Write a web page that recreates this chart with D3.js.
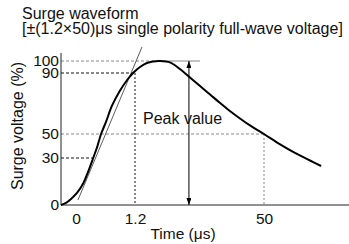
<!DOCTYPE html>
<html lang="en">
  <head>
    <meta charset="UTF-8" />
    <title>Surge waveform</title>
    <script src="https://d3js.org/d3.v7.min.js"></script>
    <style>
      body {
        margin: 0;
        background: #fff;
      }
      svg {
        display: block;
        font-family: "Liberation Sans", Arial, sans-serif;
      }
    </style>
  </head>
  <body>
    <div id="chart"></div>
    <script>
      // time axis is schematic (not to scale), so the scale is piecewise
      const timeTicks = [0, 1.2, 50]
      const voltTicks = [0, 30, 50, 90, 100]

      // wave: time (us), voltage (%)
      const waveTime = [-0.3, -0.2, -0.1, 0.02, 0.14, 0.24, 0.35, 0.43, 0.51, 0.61, 0.73, 0.89, 1.04, 1.16,
        3.1, 5.7, 8.0, 10.7, 14.4, 18.2, 22.0, 25.8, 29.6, 33.4, 37.1, 40.9, 44.7, 50, 56.1, 61.7, 67.4, 71.6]
      const waveVolt = [0, 1.3, 3.8, 7.7, 13.4, 20.7, 30, 39.2, 50, 57.9, 68.4, 78.2, 85.4, 90,
        95, 98.3, 99.6, 100, 98.8, 93.3, 87.0, 81.5, 75.9, 70.3, 65.1, 60.2, 55.6, 50, 41.3, 34.2, 28.4, 24.9]

      // front tangent through the 30% and 90% points
      const tangentTime = [0.04, 3.85]
      const tangentVolt = [3.2, 111.7]

      const peakTime = 21.6
      const peakLineEnd = 25.8

      const width = 349,
        height = 244

      const svg = d3
        .select("#chart")
        .append("svg")
        .attr("width", width)
        .attr("height", height)

      const x = d3.scaleLinear().domain([-0.3, 0, 1.2, 50]).range([61, 76, 135, 264])
      const y = d3.scaleLinear().domain([0, 30, 50, 90, 100]).range([205, 158, 134, 73, 61])

      const wave = waveTime.map((t, i) => [t, waveVolt[i]])
      const at = v => wave.find(d => d[1] === v)

      // guide lines
      const guides = [
        [[-0.3, 100], [at(100)[0], 100], "#888", "3 2"],
        [[at(100)[0], 100], [peakLineEnd, 100], "#888", null],
        [[-0.3, 90], [1.2, 90], "#111", "3 2"],
        [[1.2, 90], [1.2, 0], "#111", "2 2"],
        [[-0.3, 50], [50, 50], "#888", "3 2"],
        [[50, 50], [50, 0], "#888", "2 2"],
        [[-0.3, 30], [at(30)[0], 30], "#111", "3 2"]
      ]
      svg
        .selectAll(".guide")
        .data(guides)
        .enter()
        .append("line")
        .attr("class", "guide")
        .attr("x1", d => x(d[0][0]))
        .attr("y1", d => y(d[0][1]))
        .attr("x2", d => x(d[1][0]))
        .attr("y2", d => y(d[1][1]))
        .attr("stroke", d => d[2])
        .attr("stroke-width", 1)
        .attr("stroke-dasharray", d => d[3])

      // axes
      const yAxis = svg
        .append("g")
        .attr("transform", `translate(${x(-0.3)},0)`)
        .call(d3.axisLeft(y).tickValues(voltTicks).tickSize(0).tickPadding(2))
      yAxis.select(".domain").remove()
      yAxis.selectAll("text").attr("font-size", 15.5).attr("font-family", null).attr("fill", "#111")

      const xAxis = svg
        .append("g")
        .attr("transform", `translate(0,${y(0)})`)
        .call(d3.axisBottom(x).tickValues(timeTicks).tickFormat(d => d).tickSize(0).tickPadding(8))
      xAxis.select(".domain").remove()
      xAxis.selectAll("text").attr("font-size", 15.5).attr("font-family", null).attr("fill", "#111")

      svg
        .append("line")
        .attr("x1", x(-0.3))
        .attr("x2", x(-0.3))
        .attr("y1", 53)
        .attr("y2", y(0))
        .attr("stroke", "#222")
      svg
        .append("line")
        .attr("x1", x(-0.3))
        .attr("x2", width)
        .attr("y1", y(0))
        .attr("y2", y(0))
        .attr("stroke", "#222")

      // tangent
      svg
        .append("line")
        .attr("x1", x(tangentTime[0]))
        .attr("y1", y(tangentVolt[0]))
        .attr("x2", x(tangentTime[1]))
        .attr("y2", y(tangentVolt[1]))
        .attr("stroke", "#333")
        .attr("stroke-width", 0.8)

      // waveform
      svg
        .append("path")
        .datum(wave)
        .attr("fill", "none")
        .attr("stroke", "#000")
        .attr("stroke-width", 2)
        .attr("d", d3.line().x(d => x(d[0])).y(d => y(d[1])).curve(d3.curveCatmullRom))

      // peak value arrow
      svg
        .append("defs")
        .append("marker")
        .attr("id", "head")
        .attr("viewBox", "0 0 7 5")
        .attr("refX", 7)
        .attr("refY", 2.5)
        .attr("markerWidth", 7)
        .attr("markerHeight", 5)
        .attr("markerUnits", "userSpaceOnUse")
        .attr("orient", "auto-start-reverse")
        .append("path")
        .attr("d", "M0,0L7,2.5L0,5Z")
        .attr("fill", "#000")

      svg
        .append("line")
        .attr("x1", x(peakTime))
        .attr("x2", x(peakTime))
        .attr("y1", y(100))
        .attr("y2", y(0))
        .attr("stroke", "#000")
        .attr("stroke-width", 1)
        .attr("marker-start", "url(#head)")
        .attr("marker-end", "url(#head)")

      svg
        .append("text")
        .attr("x", 143)
        .attr("y", 124)
        .attr("font-size", 16)
        .attr("fill", "#111")
        .text("Peak value")

      // titles
      svg
        .append("text")
        .attr("x", 22)
        .attr("y", 18.5)
        .attr("font-size", 16)
        .attr("fill", "#111")
        .text("Surge waveform")
      svg
        .append("text")
        .attr("x", 22)
        .attr("y", 33.5)
        .attr("font-size", 16)
        .attr("fill", "#111")
        .text("[±(1.2×50)μs single polarity full-wave voltage]")

      svg
        .append("text")
        .attr("x", 183)
        .attr("y", 239)
        .attr("text-anchor", "middle")
        .attr("font-size", 15.5)
        .attr("fill", "#111")
        .text("Time (μs)")

      svg
        .append("text")
        .attr("transform", "translate(23,126) rotate(-90)")
        .attr("text-anchor", "middle")
        .attr("font-size", 16)
        .attr("fill", "#111")
        .text("Surge voltage (%)")
    </script>
  </body>
</html>
